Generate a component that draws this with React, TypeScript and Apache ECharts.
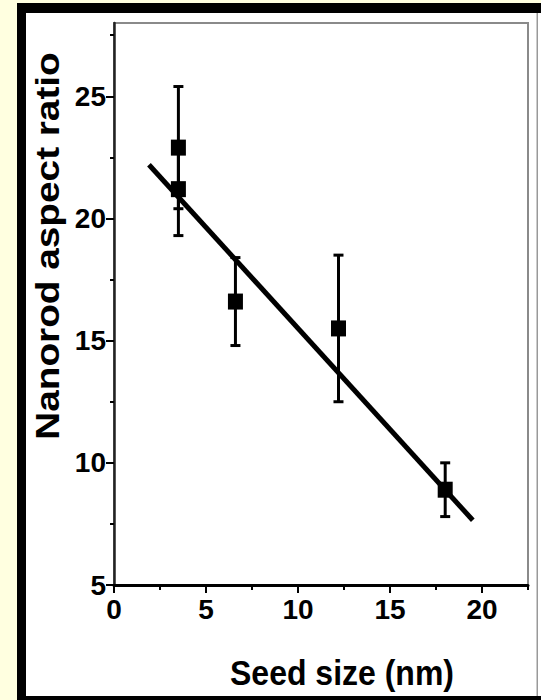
import React, { useEffect, useRef } from "react";
import * as echarts from "echarts";

const seedSize = [3.5, 3.5, 6.6, 12.2, 18.0];
const aspectRatio = [22.9, 21.2, 16.6, 15.5, 8.9];
const errLow = [20.4, 19.3, 14.8, 12.5, 7.8];
const errHigh = [25.4, 23.1, 18.4, 18.5, 10.0];
const fitX = [1.9, 19.5];
const fitY = [22.2, 7.65];
const xMajorTicks = [0, 5, 10, 15, 20];
const xMinorTicks = [2.5, 7.5, 12.5, 17.5, 22.5];
const yMajorTicks = [5, 10, 15, 20, 25];
const yMinorTicks = [7.5, 12.5, 17.5, 22.5, 27.5];
const xTitle = "Seed size (nm)";
const yTitle = "Nanorod aspect ratio";

const FONT = "'Liberation Sans', Arial, sans-serif";

export default function App() {
  const ref = useRef<HTMLDivElement>(null);
  useEffect(() => {
    if (!ref.current) return;
    const chart = echarts.init(ref.current, undefined, { renderer: "svg" });
    const labelStyle = {
      fontSize: 28,
      fontWeight: "bold" as const,
      color: "#000",
      fontFamily: FONT,
    };
    const option: any = {
      animation: false,
      backgroundColor: "transparent",
      grid: {
        left: 114,
        right: 13,
        top: 23,
        bottom: 115,
        show: true,
        borderColor: "#8a8a8a",
        borderWidth: 2,
        backgroundColor: "#fff",
      },
      graphic: [
        { type: "rect", z: -10, shape: { x: 17, y: 3, width: 524, height: 697 }, style: { fill: "#000" } },
        { type: "rect", z: -9, shape: { x: 26, y: 13, width: 515, height: 683 }, style: { fill: "#fff" } },
        { type: "rect", z: -8, shape: { x: 536.5, y: 13, width: 1.5, height: 683 }, style: { fill: "#999" } },
        {
          type: "text",
          z: 10,
          x: 47,
          y: 246,
          rotation: Math.PI / 2,
          scaleX: 1.14,
          style: {
            text: yTitle,
            fontSize: 34,
            fontWeight: "bold",
            fontFamily: FONT,
            fill: "#000",
            align: "center",
            verticalAlign: "middle",
          },
        },
        {
          type: "text",
          z: 10,
          x: 342,
          y: 673,
          scaleY: 1.1,
          style: {
            text: xTitle,
            fontSize: 32,
            fontWeight: "bold",
            fontFamily: FONT,
            fill: "#000",
            align: "center",
            verticalAlign: "middle",
          },
        },
      ],
      xAxis: [
        {
          type: "value",
          min: 0,
          max: 22.5,
          position: "bottom",
          axisLine: { show: true, lineStyle: { color: "#000", width: 3 } },
          axisTick: { show: true, customValues: xMajorTicks, length: 8, lineStyle: { color: "#000", width: 2 } },
          axisLabel: { ...labelStyle, customValues: xMajorTicks, margin: 10 },
          splitLine: { show: false },
        },
        {
          type: "value",
          min: 0,
          max: 22.5,
          position: "bottom",
          axisLine: { show: false },
          axisTick: { show: true, customValues: xMinorTicks, length: 5, lineStyle: { color: "#000", width: 2 } },
          axisLabel: { show: false },
          splitLine: { show: false },
        },
      ],
      yAxis: [
        {
          type: "value",
          min: 5,
          max: 28,
          position: "left",
          axisLine: { show: true, lineStyle: { color: "#222", width: 2.5 } },
          axisTick: { show: true, customValues: yMajorTicks, length: 8, lineStyle: { color: "#000", width: 2 } },
          axisLabel: { ...labelStyle, customValues: yMajorTicks, margin: 8 },
          splitLine: { show: false },
        },
        {
          type: "value",
          min: 5,
          max: 28,
          position: "left",
          axisLine: { show: false },
          axisTick: { show: true, customValues: yMinorTicks, length: 4, lineStyle: { color: "#000", width: 2 } },
          axisLabel: { show: false },
          splitLine: { show: false },
        },
      ],
      series: [
        {
          type: "line",
          xAxisIndex: 0,
          yAxisIndex: 0,
          data: fitX.map((x, i) => [x, fitY[i]]),
          symbol: "none",
          lineStyle: { color: "#000", width: 5 },
          z: 2,
        },
        {
          type: "custom",
          xAxisIndex: 0,
          yAxisIndex: 0,
          data: seedSize.map((x, i) => [x, errLow[i], errHigh[i]]),
          encode: { x: 0, y: [1, 2] },
          z: 3,
          renderItem: (params: any, api: any) => {
            const x = api.value(0);
            const lo = api.coord([x, api.value(1)]);
            const hi = api.coord([x, api.value(2)]);
            const hw = 5;
            const style = { stroke: "#000", lineWidth: 3 };
            return {
              type: "group",
              children: [
                { type: "line", shape: { x1: lo[0], y1: lo[1], x2: hi[0], y2: hi[1] }, style },
                { type: "line", shape: { x1: lo[0] - hw, y1: lo[1], x2: lo[0] + hw, y2: lo[1] }, style },
                { type: "line", shape: { x1: hi[0] - hw, y1: hi[1], x2: hi[0] + hw, y2: hi[1] }, style },
              ],
            };
          },
        },
        {
          type: "scatter",
          xAxisIndex: 0,
          yAxisIndex: 0,
          data: seedSize.map((x, i) => [x, aspectRatio[i]]),
          symbol: "rect",
          symbolSize: [15, 16],
          itemStyle: { color: "#000", opacity: 1 },
          z: 4,
        },
      ],
    };
    chart.setOption(option);
    return () => chart.dispose();
  }, []);
  return (
    <div
      style={{
        position: "absolute",
        left: 0,
        top: 0,
        width: 541,
        height: 700,
        background: "#FFFFE0",
      }}
    >
      <div ref={ref} style={{ width: 541, height: 700 }} />
    </div>
  );
}
